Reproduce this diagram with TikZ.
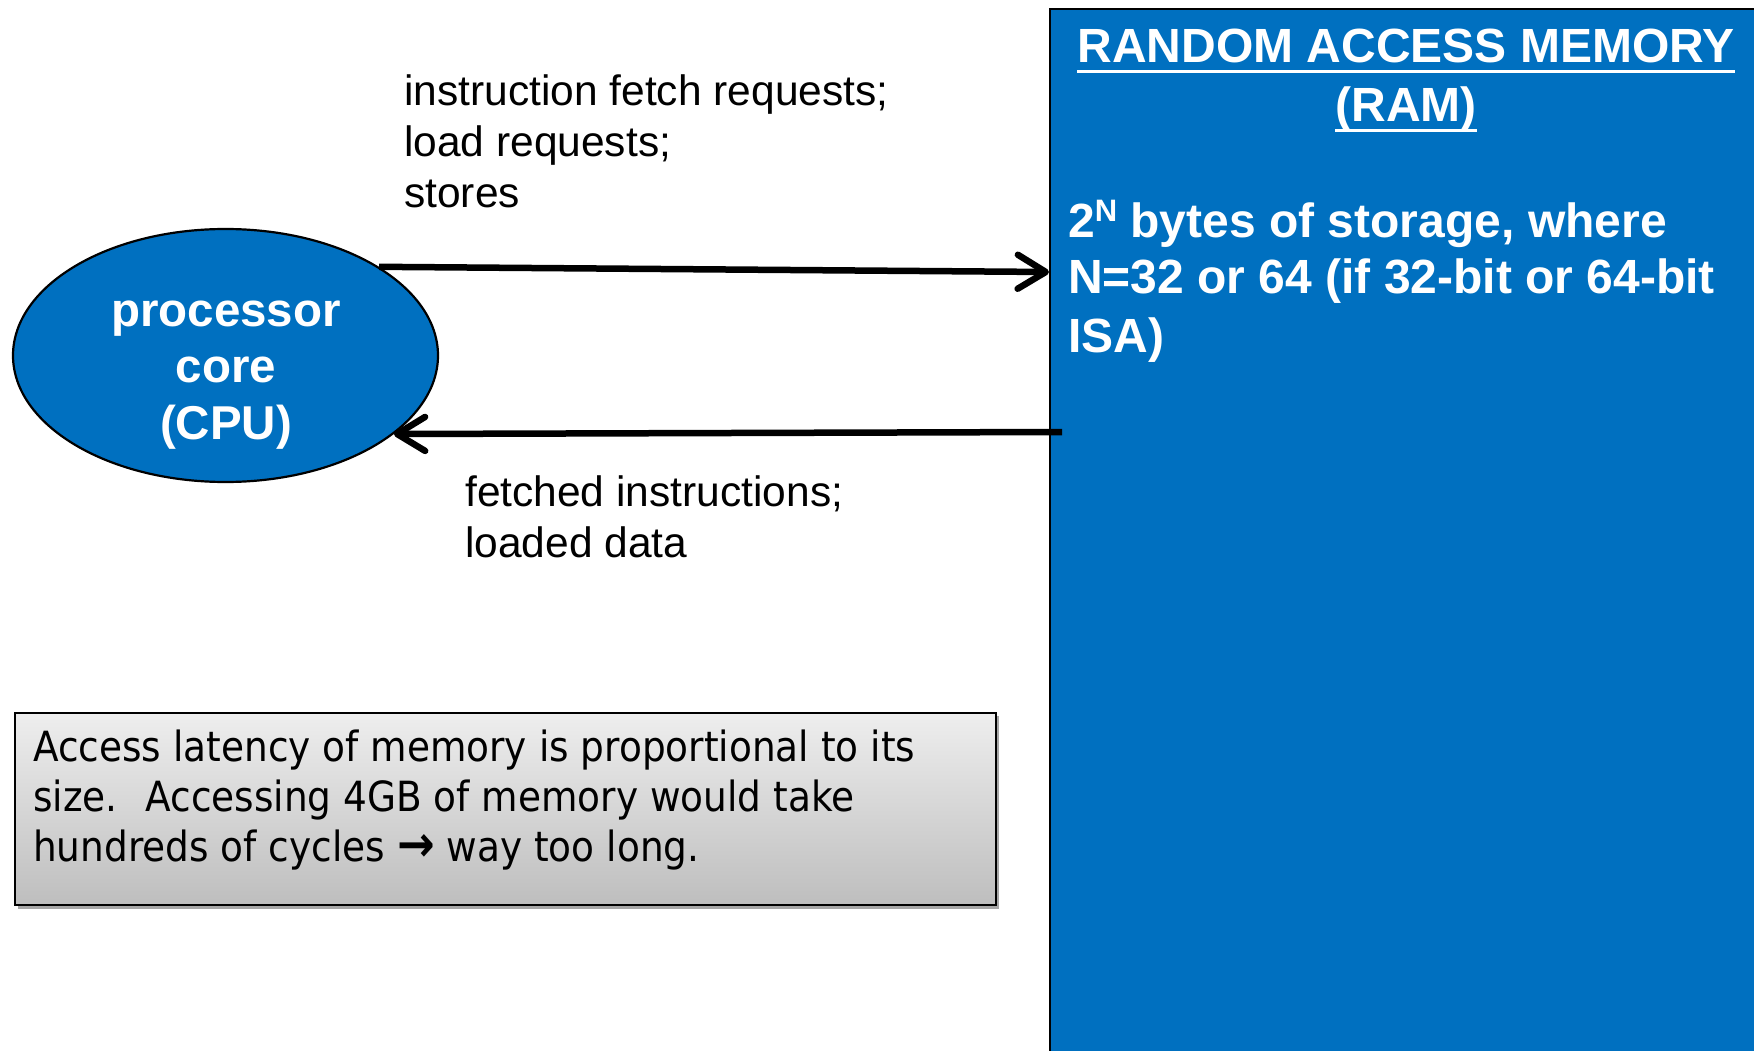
\documentclass[tikz,border=0pt]{standalone}
\usepackage{fontspec}
\setmainfont{Liberation Sans}
\newfontfamily\boxfont[FakeStretch=0.9]{DejaVu Sans}
\usetikzlibrary{shapes.geometric,arrows.meta}
\definecolor{ramblue}{RGB}{0,112,192}
\definecolor{boxtop}{RGB}{238,238,238}
\definecolor{boxbot}{RGB}{190,190,190}
\tikzset{
 lbl/.style={anchor=base west, inner sep=0pt, font=\fontsize{42.5}{51}\selectfont},
 cpulbl/.style={anchor=base, inner sep=0pt, text=white, font=\fontsize{47.5}{57}\selectfont\bfseries},
 ramtitle/.style={anchor=base, inner sep=0pt, text=white, font=\fontsize{48}{58}\selectfont\bfseries},
 ramtxt/.style={anchor=base west, inner sep=0pt, text=white, font=\fontsize{48}{58}\selectfont\bfseries},
 boxtxt/.style={anchor=base west, inner sep=0pt, font=\boxfont\fontsize{41.6}{50}\selectfont},
 arr/.style={line width=6.5pt, -{Straight Barb[length=28pt,width=34pt,round]}},
 uline/.style={white, line width=3pt},
}
\begin{document}
\begin{tikzpicture}[x=1pt,y=-1pt]
\useasboundingbox (0,0) rectangle (1754,1051);
\fill[white] (0,0) rectangle (1754,1051);
% RAM block
\node[draw=black, line width=2pt, fill=ramblue, inner sep=0pt, minimum width=721pt, minimum height=1062pt, anchor=north west] (ram) at (1049,8) {};
\node[ramtitle] (t1) at (1406,63) {RANDOM ACCESS MEMORY};
\node[ramtitle] (t2) at (1406,122) {(RAM)};
\draw[uline] ([yshift=-9pt]t1.base west) -- ([yshift=-9pt]t1.base east);
\draw[uline] ([yshift=-9pt]t2.base west) -- ([yshift=-9pt]t2.base east);
\node[ramtxt] (r1) at (1068,237) {2\raisebox{16pt}{\fontsize{31}{31}\selectfont N} bytes of storage, where};
\node[ramtxt] (r2) at (1068,294) {N=32 or 64 (if 32-bit or 64-bit};
\node[ramtxt] (r3) at (1068,352) {ISA)};
% CPU
\node[ellipse, draw=black, line width=2.2pt, fill=ramblue, minimum width=425pt, minimum height=253pt, inner sep=0pt] (cpu) at (225.5,355.5) {};
\node[cpulbl] (c1) at (226,326) {processor};
\node[cpulbl] (c2) at (226,382) {core};
\node[cpulbl] (c3) at (226,439) {(CPU)};
% labels
\node[lbl] (q1) at (404,106) {instruction fetch requests;};
\node[lbl] (q2) at (404,157) {load requests;};
\node[lbl] (q3) at (404,208) {stores};
\node[lbl] (f1) at (465,506) {fetched instructions;};
\node[lbl] (f2) at (465,557) {loaded data};
% arrows
\coordinate (ramin) at (1049,272);
\coordinate (ramout) at (1062,432);
\draw[arr] (cpu.30.6) -- (ramin);
\draw[arr] (ramout) -- (cpu.-25.9);
% note box
\fill[black!35] (18,716) rectangle (999,909);
\node[draw=black, line width=1.5pt, top color=boxtop, bottom color=boxbot, minimum width=981pt, minimum height=192pt, anchor=north west, inner sep=0pt] (note) at (14,712) {};
\node[boxtxt] (n1) at (33,761) {Access latency of memory is proportional to its};
\node[boxtxt] (n2) at (33,811) {size.~ Accessing 4GB of memory would take};
\node[boxtxt] (n3) at (33,861) {hundreds of cycles {\fontsize{50}{50}\selectfont\bfseries →} way too long.};
\end{tikzpicture}
\end{document}
